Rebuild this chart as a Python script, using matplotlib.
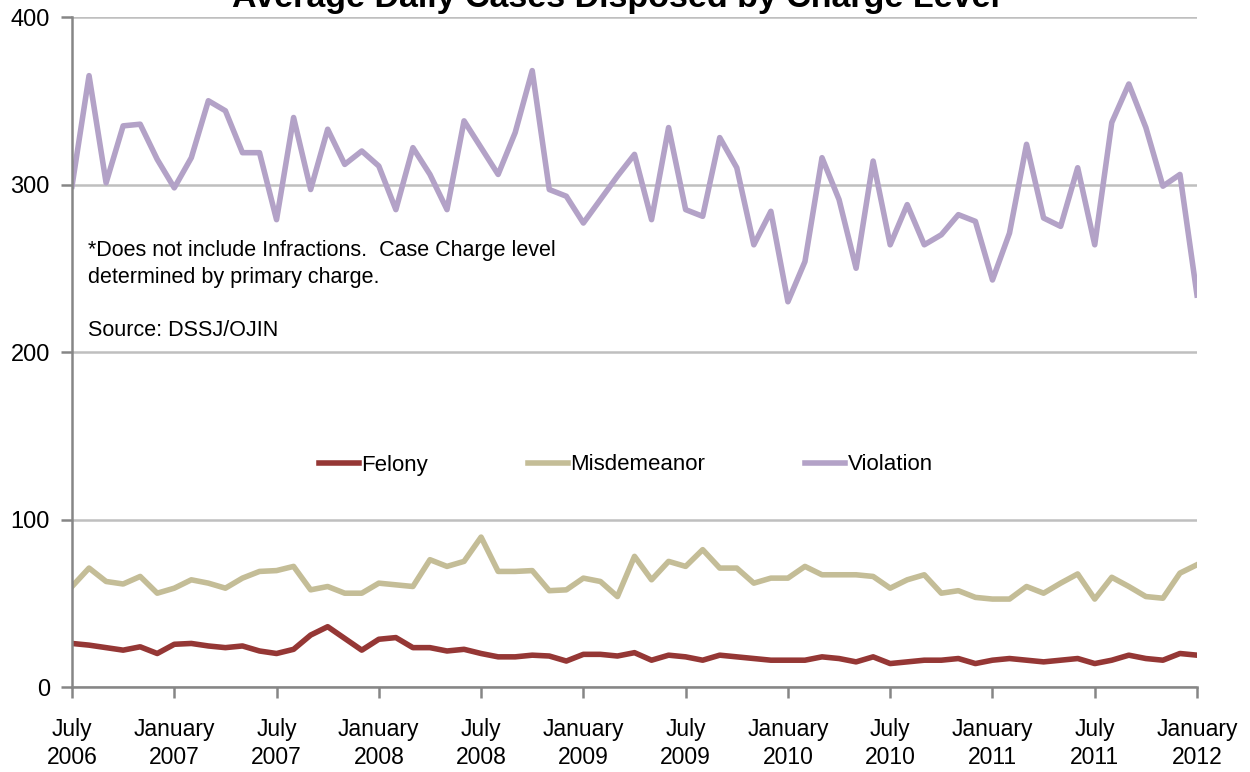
"""Average daily cases disposed by charge level, July 2006 - January 2012."""
import matplotlib
matplotlib.use('Agg')
import matplotlib.pyplot as plt
import numpy as np

plt.rcParams['font.family'] = ['Liberation Sans', 'DejaVu Sans']

# monthly values, July 2006 .. January 2012 (67 months)
felony = [26, 25, 23.5, 22, 24, 20, 25.5, 26, 24.5, 23.5, 24.5, 21.5, 20, 22.5,
          31, 36, 29, 22, 28.5, 29.5, 23.5, 23.5, 21.5, 22.5, 20, 18, 18, 19,
          18.5, 15.5, 19.5, 19.5, 18.5, 20.5, 16, 19, 18, 16, 19, 18, 17, 16,
          16, 16, 18, 17, 15, 18, 14, 15, 16, 16, 17, 14, 16, 17, 16, 15, 16,
          17, 14, 16, 19, 17, 16, 20, 19]
misdemeanor = [60, 71, 63, 61.5, 66, 56, 59, 64, 62, 59, 65, 69, 69.5, 72, 58,
               60, 56, 56, 62, 61, 60, 76, 72, 75, 89.5, 69, 69, 69.5, 57.5, 58,
               65, 63, 54, 78, 64, 75, 72, 82, 71, 71, 62, 65, 65, 72, 67, 67,
               67, 66, 59, 64, 67, 56, 57.5, 53.5, 52.5, 52.5, 60, 56, 62, 67.5,
               52.5, 65.5, 60, 54, 53, 68, 73]
violation = [299, 365, 301, 335, 336, 315, 298, 316, 350, 344, 319, 319, 279,
             340, 297, 333, 312, 320, 311, 285, 322, 306, 285, 338, 322, 306,
             331, 368, 297, 293, 277, 291, 305, 318, 279, 334, 285, 281, 328,
             310, 264, 284, 230, 254, 316, 291, 250, 314, 264, 288, 264, 270,
             282, 278, 243, 271, 324, 280, 275, 310, 264, 337, 360, 334, 299,
             306, 234]

tick_labels = ['July\n2006', 'January\n2007', 'July\n2007', 'January\n2008',
               'July\n2008', 'January\n2009', 'July\n2009', 'January\n2010',
               'July\n2010', 'January\n2011', 'July\n2011', 'January\n2012']

months = np.arange(len(violation))

fig = plt.figure(figsize=(12.5, 7.72), dpi=100)
ax = fig.add_axes([72 / 1250, 1 - 687 / 772, 1125 / 1250, 670 / 772])

ax.plot(months, felony, color='#953735', lw=4.0, label='Felony')
ax.plot(months, misdemeanor, color='#C4BD97', lw=4.0, label='Misdemeanor')
ax.plot(months, violation, color='#B3A2C7', lw=4.0, label='Violation')

ax.set_xlim(0, len(violation) - 1)
ax.set_ylim(0, 400)
ax.set_yticks([0, 100, 200, 300, 400])
ax.set_xticks(months[::6])
ax.set_xticklabels(tick_labels, linespacing=1.3)
ax.grid(axis='y', color='#BFBFBF', lw=1.8)
ax.set_axisbelow(True)
for s in ['top', 'right']:
    ax.spines[s].set_visible(False)
for s in ['left', 'bottom']:
    ax.spines[s].set_color('#868686')
    ax.spines[s].set_linewidth(1.8)
ax.tick_params(axis='both', colors='#868686', width=1.8, length=8,
               labelcolor='black')
ax.tick_params(axis='x', pad=14, labelsize=16.5)
ax.tick_params(axis='y', pad=8, labelsize=17)

ax.text(0.0145, 0.667, '*Does not include Infractions.  Case Charge level\n'
        'determined by primary charge.\n\nSource: DSSJ/OJIN',
        transform=ax.transAxes, fontsize=15.5, va='top', ha='left', linespacing=1.35)

fig.legend(loc='center', bbox_to_anchor=(626 / 1250, 1 - 465 / 772), ncol=3,
           frameon=False, fontsize=16, handlelength=1.8, handletextpad=0.1,
           columnspacing=4.5)

fig.text(616 / 1250, 1 - 7 / 772, 'Average Daily Cases Disposed by Charge Level',
         ha='center', va='baseline', fontsize=24.5, fontweight='bold')

fig.savefig('out.png', dpi=100)
